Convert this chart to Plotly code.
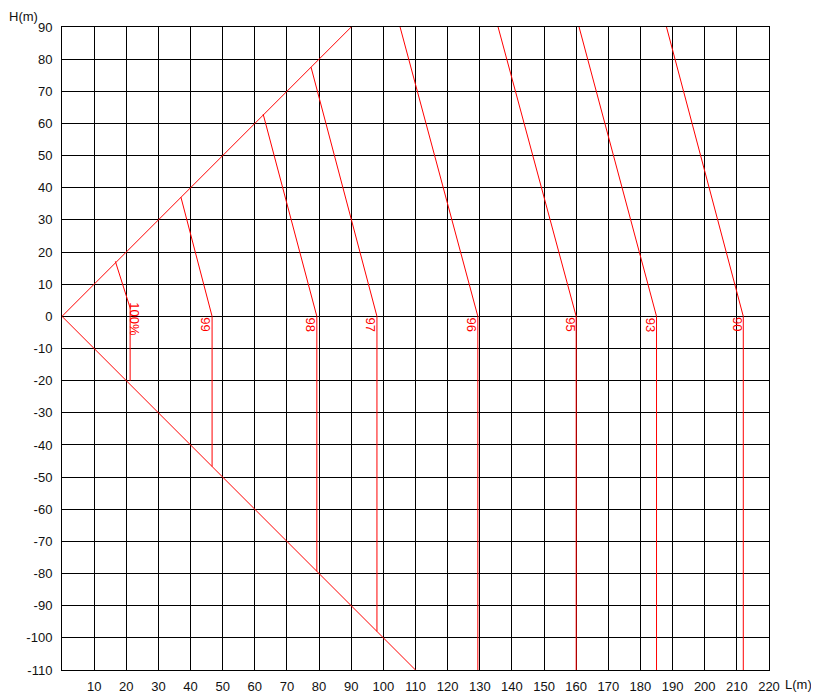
import plotly.graph_objects as go

# ---- data ----
labels = ["100%", "99", "98", "97", "96", "95", "93", "90"]
top_L = [16.6, 37.0, 62.6, 77.5, 105.2, 135.7, 160.9, 188.1]
top_H = [17.1, 37.1, 62.9, 77.5, 90, 90, 90, 90]
knee_L = [21.2, 46.7, 79.3, 98.0, 129.4, 160.0, 185.0, 212.0]
knee_H = [2.6, 0, 0, 0, 0, 0, 0, 0]
end_H = [-20, -46.7, -79.3, -98.0, -110, -110, -110, -110]

upper_diag_L = [0, 90]
upper_diag_H = [0, 90]
lower_diag_L = [0, 110]
lower_diag_H = [0, -110]

x_ticks = list(range(10, 230, 10))
y_ticks = list(range(-110, 100, 10))

RED = "#ff0000"
FONT = "Arial, Liberation Sans, sans-serif"

fig = go.Figure()

fig.add_trace(go.Scatter(x=upper_diag_L, y=upper_diag_H, mode="lines",
                         line=dict(color=RED, width=1), hoverinfo="skip"))
fig.add_trace(go.Scatter(x=lower_diag_L, y=lower_diag_H, mode="lines",
                         line=dict(color=RED, width=1), hoverinfo="skip"))

for i, lab in enumerate(labels):
    fig.add_trace(go.Scatter(
        x=[top_L[i], knee_L[i], knee_L[i]],
        y=[top_H[i], knee_H[i], end_H[i]],
        mode="lines", line=dict(color=RED, width=1), hoverinfo="skip"))
    if lab == "100%":
        fig.add_annotation(x=knee_L[i], y=0, text=lab, textangle=90,
                           showarrow=False, xanchor="center", yanchor="middle",
                           xshift=5, yshift=-3,
                           font=dict(family=FONT, size=13, color=RED))
    else:
        fig.add_annotation(x=knee_L[i], y=0, text=lab, textangle=90,
                           showarrow=False, xanchor="center", yanchor="middle",
                           xshift=-6, yshift=-8,
                           font=dict(family=FONT, size=13, color=RED))

fig.add_annotation(x=0, y=90, xref="x", yref="y", text="H(m)", showarrow=False,
                   xanchor="right", yanchor="bottom", xshift=-22, yshift=1,
                   font=dict(family=FONT, size=13, color="#111111"))
fig.add_annotation(x=220, y=-110, xref="x", yref="y", text="L(m)", showarrow=False,
                   xanchor="left", yanchor="top", xshift=14, yshift=-5,
                   font=dict(family=FONT, size=13, color="#111111"))

# the page adds an 8px body margin, so margins are shifted to compensate
fig.update_layout(
    width=819, height=693,
    margin=dict(l=54, r=58, t=19, b=30.5, autoexpand=False),
    plot_bgcolor="white", paper_bgcolor="white",
    showlegend=False,
    font=dict(family=FONT, size=13, color="#111111"),
)
fig.update_xaxes(range=[0, 220], tickvals=x_ticks, ticktext=[str(v) for v in x_ticks],
                 showgrid=True, gridcolor="black", gridwidth=1,
                 showline=True, linecolor="black", linewidth=1, mirror=True,
                 ticks="", zeroline=False, ticklabelstandoff=4, automargin=False)
fig.update_yaxes(range=[-110, 90], tickvals=y_ticks, ticktext=[str(v) for v in y_ticks],
                 showgrid=True, gridcolor="black", gridwidth=1,
                 showline=True, linecolor="black", linewidth=1, mirror=True,
                 ticks="", zeroline=False, ticklabelstandoff=6, automargin=False)

fig.write_html("out.html")
